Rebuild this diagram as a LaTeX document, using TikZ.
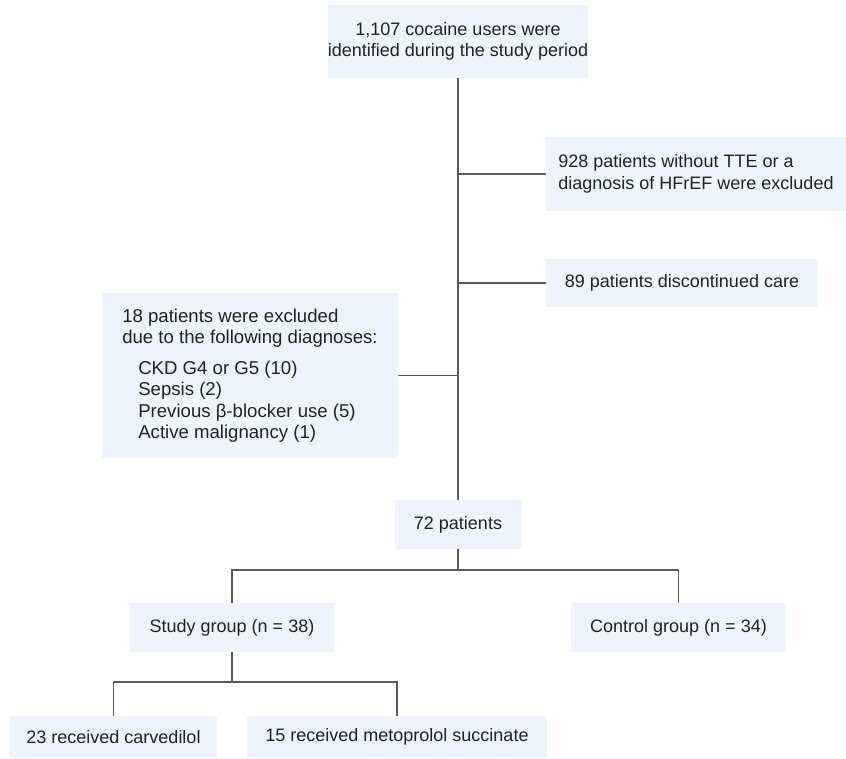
\documentclass[tikz,border=0pt]{standalone}
\usepackage{fontspec}
\setmainfont{Liberation Sans}
\usepackage{xcolor}
\usepackage{tikz}
\usetikzlibrary{positioning}

\definecolor{boxfill}{HTML}{EDF4FB}
\definecolor{linegray}{HTML}{5A5A5A}
\definecolor{textgray}{HTML}{222222}

\begin{document}
\begin{tikzpicture}[x=1pt,y=-1pt,
  box/.style={rectangle,fill=boxfill,text=textgray,inner sep=0pt,
    font=\fontsize{18}{21.5}\selectfont},
  link/.style={draw=linegray,line width=1.1pt}]
\useasboundingbox (0,0) rectangle (846,758);

\node[box,minimum width=260pt,minimum height=73pt,align=center]
      (users) at (458,41.5)   {1,107 cocaine users were\\identified during the study period};
  \node[box,minimum width=300pt,minimum height=74pt,align=left]
      (noTTE) at (696,174)    {928 patients without TTE or a\\diagnosis of HFrEF were excluded};
  \node[box,minimum width=272pt,minimum height=48pt,align=left]
      (disc) at (682,283)     {89 patients discontinued care};
  \node[box,minimum width=296pt,minimum height=165pt,align=left,
        font=\fontsize{18.6}{21.5}\selectfont]
      (diag) at (250,375.5)   {18 patients were excluded\\due to the following diagnoses:\\[9pt]
        \hspace*{16pt}CKD G4 or G5 (10)\\
        \hspace*{16pt}Sepsis (2)\\
        \hspace*{16pt}Previous β-blocker use (5)\\
        \hspace*{16pt}Active malignancy (1)};
  \node[box,minimum width=127pt,minimum height=49pt]
      (pts) at (458,524.5)    {72 patients};
  \node[box,minimum width=204pt,minimum height=49pt]
      (study) at (232,627.5)  {Study group (n = 38)};
  \node[box,minimum width=215pt,minimum height=49pt]
      (control) at (678.5,627.5) {Control group (n = 34)};
  \node[box,minimum width=207pt,minimum height=42pt]
      (carv) at (113.5,737)   {23 received carvedilol};
  \node[box,minimum width=300pt,minimum height=42pt]
      (meto) at (397,737)     {15 received metoprolol succinate};

  \coordinate (split72) at (458,570);
  \coordinate (split38) at (232,682);

  % trunk and side branches
  \path[link]
        (users.south) edge (users.south |- pts.north)
        (users.south |- noTTE.west) edge (noTTE.west)
        (users.south |- disc.west) edge (disc.west)
        (users.south |- diag.east) edge (diag.east);

  % groups
  \path[link]
        (pts.south) edge (split72)
        (study.south) edge (split38);
  \draw[link] (study.north) |- (split72) -| (control.north);
  \draw[link] (carv.north) |- (split38) -| (meto.north);
\end{tikzpicture}
\end{document}
